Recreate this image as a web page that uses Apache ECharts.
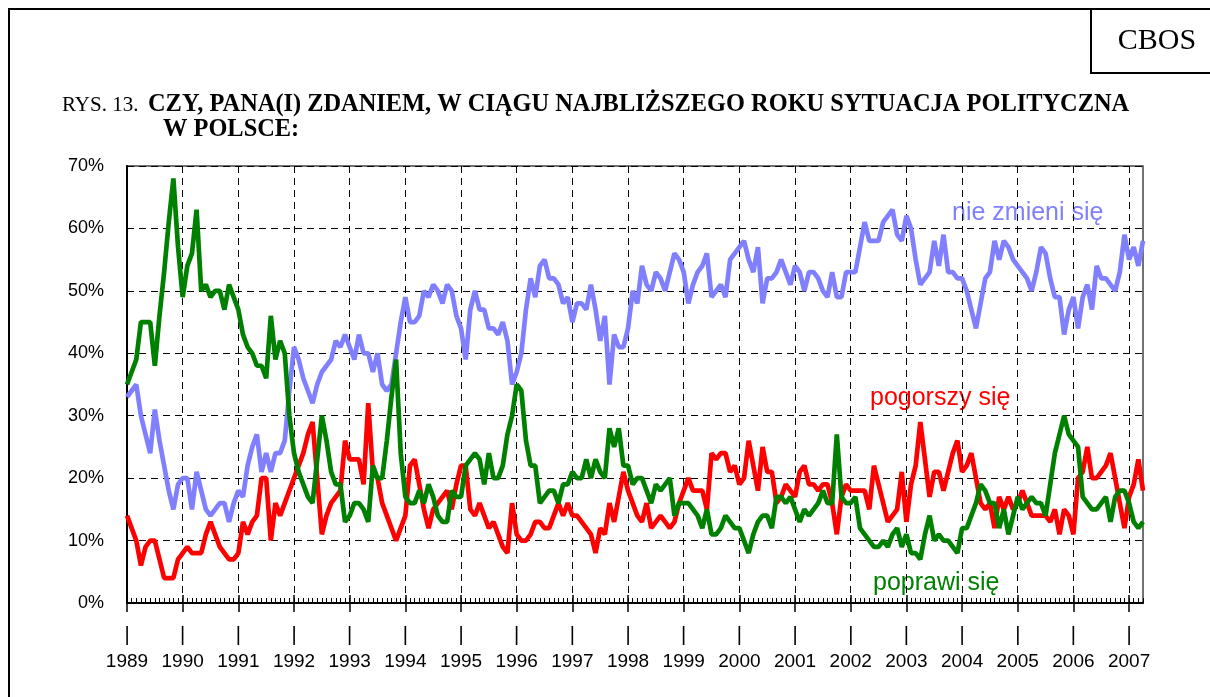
<!DOCTYPE html>
<html><head><meta charset="utf-8">
<script src="https://cdn.jsdelivr.net/npm/echarts@6/dist/echarts.min.js"></script>
<style>html,body{margin:0;padding:0;background:#fff}#c{width:1210px;height:697px}</style>
</head><body><div id="c"></div>
<script>
// Categories: monthly surveys, Jan 1989 .. Apr 2007 (index 0..219)
const yearLabels = [1989,1990,1991,1992,1993,1994,1995,1996,1997,1998,1999,2000,2001,2002,2003,2004,2005,2006,2007];
const yTickLabels = ['0%','10%','20%','30%','40%','50%','60%','70%'];

// "poprawi się" (green)
const poprawi = [
 35,37,39,45,45,45,38,46,53,61,68,57,
 49,54,56,63,50,51,49,50,50,47,51,49,
 47,43,41,40,38,38,36,46,39,42,40,30,
 24,21,19,17,16,23,30,26,21,19,19,13,
 14,16,16,15,13,22,20,20,26,33,39,24,
 17,16,16,18,16,19,17,14,13,13,18,17,
 17,22,23,24,23,19,24,20,20,22,27,30,
 35,34,26,22,22,16,17,18,18,16,19,19,
 21,20,20,23,20,23,21,20,28,25,28,22,
 22,19,20,20,18,16,19,18,19,20,14,16,
 16,16,15,14,12,15,11,11,12,14,13,12,
 12,10,8,11,13,14,14,12,17,17,16,17,
 15,13,15,14,15,16,18,16,16,27,17,16,
 16,17,12,11,10,9,9,10,9,11,12,9,
 11,8,8,7,11,14,10,11,10,10,9,8,
 12,12,14,16,19,18,16,16,12,15,11,14,
 17,15,16,17,16,16,14,19,24,27,30,27,
 26,25,17,16,15,15,16,17,13,17,18,18,
 16,13,12,13
];
// "pogorszy się" (red)
const pogorszy = [
 14,12,10,6,9,10,10,7,4,4,4,7,
 8,9,8,8,8,11,13,11,9,8,7,7,
 8,13,11,13,14,20,20,10,16,14,16,18,
 20,22,24,27,29,20,11,14,16,17,18,26,
 23,23,23,19,32,21,20,16,14,12,10,12,
 14,22,23,19,15,12,15,16,17,18,15,19,
 22,22,15,14,16,14,12,13,11,9,8,16,
 11,10,10,11,13,13,12,12,14,16,14,16,
 14,14,13,12,11,8,12,11,16,13,17,21,
 18,16,14,13,16,12,13,14,13,12,13,16,
 18,20,18,18,18,15,24,23,24,24,21,22,
 19,20,26,22,18,25,21,21,16,17,19,18,
 17,21,22,19,19,18,19,19,16,11,17,19,
 18,18,18,18,15,22,19,16,13,14,15,21,
 13,19,22,29,23,17,21,21,18,21,24,26,
 21,22,24,20,16,15,16,12,17,15,17,15,
 16,18,16,14,14,14,14,13,15,11,15,14,
 11,20,21,25,20,20,21,22,24,20,16,12,
 17,19,23,18
];
// "nie zmieni się" (blue)
const nieZmieni = [
 33,34,35,30,27,24,31,26,22,18,15,19,
 20,20,15,21,18,15,14,15,16,16,13,16,
 18,17,22,25,27,21,24,21,24,24,26,34,
 41,39,36,34,32,35,37,38,39,42,41,43,
 41,39,43,40,40,37,40,35,34,35,40,45,
 49,45,45,46,50,49,51,50,48,51,50,46,
 44,39,47,50,47,47,44,44,43,45,42,35,
 37,40,47,52,49,54,55,52,52,51,48,49,
 45,48,48,47,51,47,42,46,35,43,41,41,
 44,50,48,54,51,50,53,52,50,53,56,55,
 53,48,51,53,54,56,49,50,51,49,55,56,
 57,58,55,53,57,48,52,52,53,55,53,51,
 54,53,50,53,53,52,50,49,53,49,49,53,
 53,53,57,61,58,58,58,61,62,63,59,58,
 62,60,55,51,52,53,58,54,59,53,53,52,
 52,50,47,44,48,52,53,58,55,58,57,55,
 54,53,52,50,53,57,56,52,49,49,43,47,
 49,44,49,51,47,54,52,52,51,50,53,59,
 55,57,54,58
];

const lastIdx = nieZmieni.length - 1;
const yearTicks = yearLabels.map((y, i) => i * 12);
const toPts = arr => arr.map((v, i) => [i, v]);

const SANS = '"Liberation Sans", Arial, sans-serif';
const SERIF = '"Liberation Serif", "Times New Roman", serif';
const gridDash = { color: '#000', width: 1, type: [7, 5] };

const chart = echarts.init(document.getElementById('c'), null, { renderer: 'canvas' });
chart.setOption({
  animation: false,
  backgroundColor: '#fff',
  grid: { left: 127, right: 67, top: 166, bottom: 94, show: true, borderColor: '#444', borderWidth: 1.5, backgroundColor: 'transparent' },
  xAxis: [
    {
      type: 'value', min: 0, max: lastIdx, interval: 12, position: 'bottom',
      axisLine: { show: true, onZero: false, lineStyle: { color: '#000', width: 2 } },
      axisTick: { show: true, length: 9, customValues: yearTicks, lineStyle: { color: '#000', width: 1.5 } },
      axisLabel: {
        show: true, customValues: yearTicks, margin: 20, color: '#000',
        formatter: v => '{b||}\n{y|' + yearLabels[Math.round(v / 12)] + '}',
        rich: {
          b: { fontSize: 20, lineHeight: 24, fontFamily: SANS, color: '#000' },
          y: { fontSize: 19, lineHeight: 30, fontFamily: SANS, color: '#000' }
        }
      },
      splitLine: { show: true, lineStyle: gridDash }
    },
    {
      type: 'value', min: 0, max: lastIdx, interval: 1, position: 'bottom',
      axisLine: { show: false, onZero: false },
      axisTick: { show: true, inside: true, length: 5, lineStyle: { color: '#000', width: 1 } },
      axisLabel: { show: false }, splitLine: { show: false }
    },
    {
      type: 'value', min: 0, max: lastIdx, interval: 12, position: 'bottom',
      axisLine: { show: false, onZero: false },
      axisTick: { show: true, inside: true, length: 8, customValues: yearTicks, lineStyle: { color: '#000', width: 1.5 } },
      axisLabel: { show: false }, splitLine: { show: false }
    }
  ],
  yAxis: {
    type: 'value', min: 0, max: 70, interval: 10,
    axisLine: { show: true, lineStyle: { color: '#000', width: 2 } },
    axisTick: { show: false },
    axisLabel: { formatter: v => yTickLabels[Math.round(v / 10)], fontSize: 18, fontFamily: SANS, color: '#000', margin: 23 },
    splitLine: { show: true, lineStyle: gridDash }
  },
  series: [
    { name: 'nie zmieni się', type: 'line', data: toPts(nieZmieni), symbol: 'none', lineStyle: { color: '#8080FF', width: 4.7 }, itemStyle: { color: '#8080FF' } },
    { name: 'pogorszy się', type: 'line', data: toPts(pogorszy), symbol: 'none', lineStyle: { color: '#FF0000', width: 4.7 }, itemStyle: { color: '#FF0000' } },
    { name: 'poprawi się', type: 'line', data: toPts(poprawi), symbol: 'none', lineStyle: { color: '#008000', width: 4.7 }, itemStyle: { color: '#008000' } }
  ],
  graphic: [
    { type: 'rect', silent: true, z: -10, shape: { x: 9, y: 9, width: 1400, height: 900 }, style: { fill: 'none', stroke: '#000', lineWidth: 2 } },
    { type: 'rect', silent: true, shape: { x: 1091, y: 9, width: 200, height: 64 }, style: { fill: 'none', stroke: '#000', lineWidth: 2 } },
    { type: 'text', silent: true, style: { text: 'CBOS', x: 1157, y: 41, font: '30px ' + SERIF, fill: '#000', textAlign: 'center', textVerticalAlign: 'middle', align: 'center', verticalAlign: 'middle' } },
    { type: 'text', silent: true, style: { text: 'RYS. 13.', x: 62, y: 105, font: '21px ' + SERIF, fill: '#000', textAlign: 'left', textVerticalAlign: 'middle', align: 'left', verticalAlign: 'middle' } },
    { type: 'text', silent: true, style: { text: 'CZY, PANA(I) ZDANIEM, W CIĄGU NAJBLIŻSZEGO ROKU SYTUACJA POLITYCZNA', x: 148, y: 105, font: 'bold 24.4px ' + SERIF, fill: '#000', textAlign: 'left', textVerticalAlign: 'middle', align: 'left', verticalAlign: 'middle' } },
    { type: 'text', silent: true, style: { text: 'W POLSCE:', x: 163, y: 130, font: 'bold 24.4px ' + SERIF, fill: '#000', textAlign: 'left', textVerticalAlign: 'middle', align: 'left', verticalAlign: 'middle' } },
    { type: 'text', silent: true, style: { text: 'nie zmieni się', x: 952, y: 213, font: '25px ' + SANS, fill: '#8080FF', textAlign: 'left', textVerticalAlign: 'middle', align: 'left', verticalAlign: 'middle' } },
    { type: 'text', silent: true, style: { text: 'pogorszy się', x: 870, y: 398, font: '25px ' + SANS, fill: '#FF0000', textAlign: 'left', textVerticalAlign: 'middle', align: 'left', verticalAlign: 'middle' } },
    { type: 'text', silent: true, style: { text: 'poprawi się', x: 873, y: 583, font: '25px ' + SANS, fill: '#008000', textAlign: 'left', textVerticalAlign: 'middle', align: 'left', verticalAlign: 'middle' } }
  ]
});
</script>
</body></html>
